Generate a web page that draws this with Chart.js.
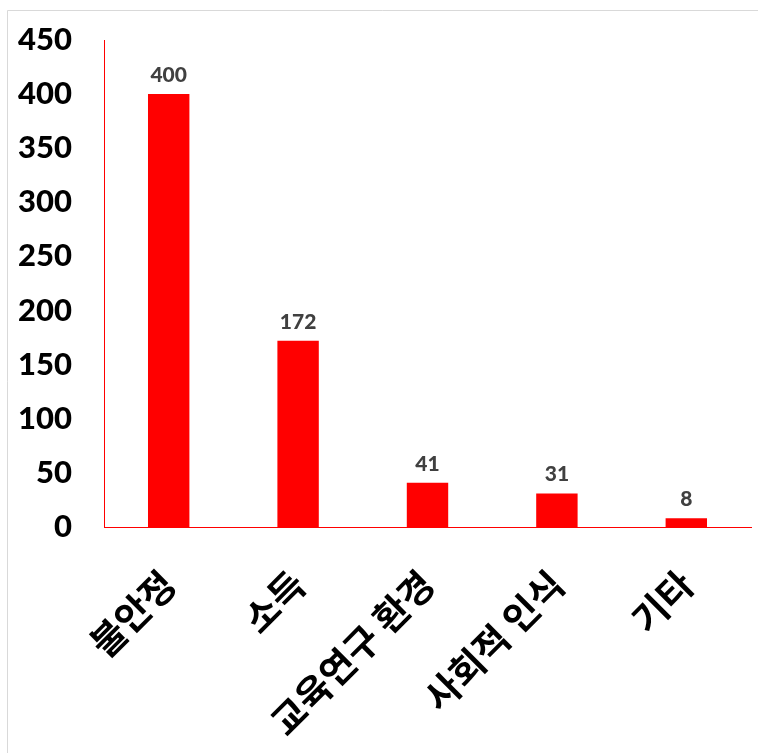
<!DOCTYPE html>
<html>
<head>
<meta charset="utf-8">
<script src="https://cdn.jsdelivr.net/npm/chart.js@4/dist/chart.umd.min.js"></script>
<style>
  html, body { margin: 0; padding: 0; background: #fff; }
  #wrap { position: relative; width: 758px; height: 753px; }
</style>
</head>
<body>
<div id="wrap"><canvas id="c" width="758" height="753"></canvas></div>
<script>
const categories = ['불안정', '소득', '교육연구 환경', '사회적 인식', '기타'];
const counts = [400, 172, 41, 31, 8];
const yTicks = [0, 50, 100, 150, 200, 250, 300, 350, 400, 450];

const RED = '#ff0000';

// frame lines along the top and left edge of the figure
const framePlugin = {
  id: 'frame',
  beforeDraw(chart) {
    const ctx = chart.ctx;
    ctx.save();
    ctx.fillStyle = '#fff';
    ctx.fillRect(0, 0, chart.width, chart.height);
    ctx.strokeStyle = '#d9d9d9';
    ctx.lineWidth = 1;
    ctx.beginPath();
    ctx.moveTo(7.5, chart.height);
    ctx.lineTo(7.5, 10.5);
    ctx.lineTo(chart.width, 10.5);
    ctx.stroke();
    ctx.restore();
  }
};

// value labels above each bar
const valueLabels = {
  id: 'valueLabels',
  afterDatasetsDraw(chart) {
    const ctx = chart.ctx;
    const meta = chart.getDatasetMeta(0);
    ctx.save();
    ctx.font = '900 21px Lato, "Open Sans", sans-serif';
    ctx.fillStyle = '#404040';
    ctx.textAlign = 'center';
    ctx.textBaseline = 'alphabetic';
    meta.data.forEach((bar, i) => {
      ctx.fillText(String(counts[i]), bar.x, bar.y - 12);
    });
    ctx.restore();
  }
};

new Chart(document.getElementById('c'), {
  type: 'bar',
  data: {
    labels: categories,
    datasets: [{
      data: counts,
      backgroundColor: RED,
      borderWidth: 0,
      categoryPercentage: 1,
      barPercentage: 0.32
    }]
  },
  options: {
    responsive: false,
    animation: false,
    layout: { padding: { top: 40, right: 7, left: 0, bottom: 0 } },
    plugins: { legend: { display: false }, title: { display: false }, tooltip: { enabled: false } },
    scales: {
      x: {
        grid: { display: false, drawTicks: false },
        border: { color: RED, width: 1 },
        ticks: {
          color: '#000',
          font: { family: '"Noto Sans CJK KR", sans-serif', size: 37, weight: 'bold' },
          minRotation: 45,
          maxRotation: 45,
          padding: 35,
          autoSkip: false
        },
        afterFit(scale) { scale.height = 753 - 527; }
      },
      y: {
        min: 0,
        max: 450,
        // invisible tick marks keep the labels clear of the axis line
        grid: { display: false, drawTicks: true, tickLength: 32, tickColor: 'rgba(0,0,0,0)' },
        border: { color: RED, width: 1 },
        afterBuildTicks(scale) { scale.ticks = yTicks.map(v => ({ value: v })); },
        ticks: {
          color: '#000',
          font: { family: 'Lato, "Open Sans", sans-serif', size: 31, weight: '900' },
          padding: 0
        },
        afterFit(scale) { scale.width = 104; }
      }
    }
  },
  plugins: [framePlugin, valueLabels]
});
</script>
</body>
</html>
